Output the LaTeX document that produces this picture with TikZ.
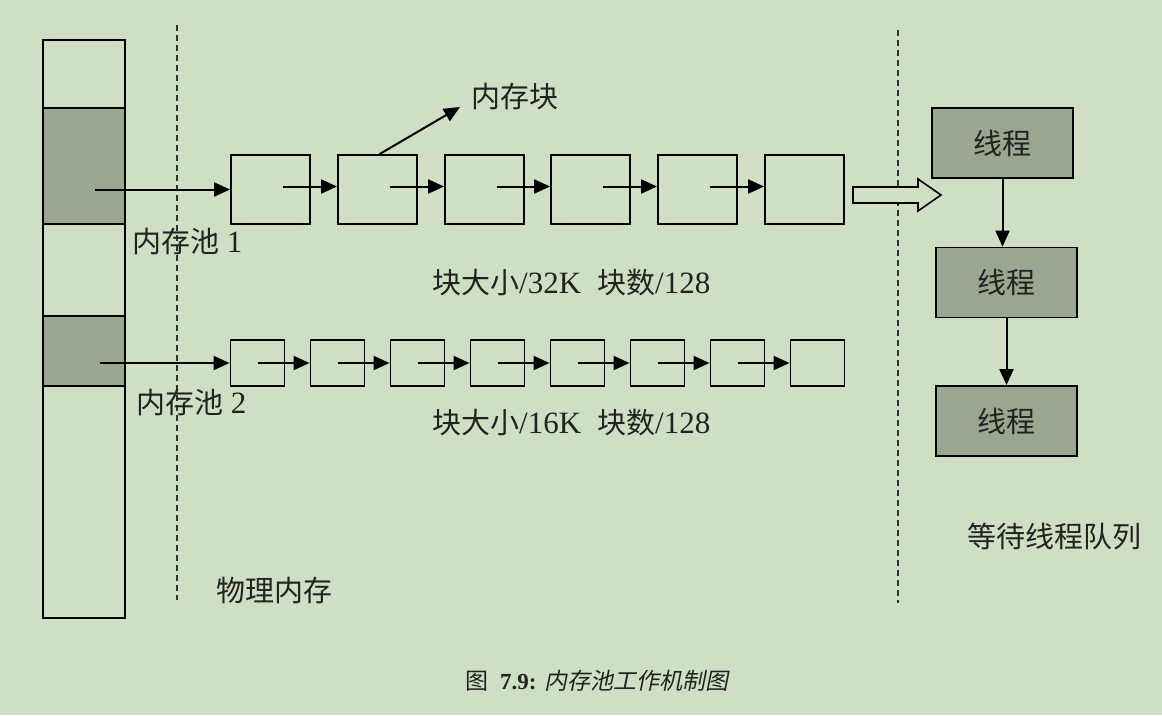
\documentclass[tikz,border=0pt]{standalone}
\usepackage{fontspec}
\setmainfont{Liberation Serif}
\newfontfamily\cjk{Noto Sans CJK SC}
\newfontfamily\cjkit[FakeSlant=0.2]{Noto Sans CJK SC}
\usetikzlibrary{arrows.meta}
\definecolor{bgc}{HTML}{CFDFC3}
\definecolor{grayc}{HTML}{9AA690}
\definecolor{txt}{HTML}{222222}
\tikzset{
  blk/.style={draw, line width=1.8pt, minimum width=79pt, minimum height=69pt, inner sep=0pt},
  sblk/.style={draw, line width=1.8pt, minimum width=54pt, minimum height=46pt, inner sep=0pt},
  thr/.style={draw, line width=1.8pt, fill=grayc, minimum width=141pt, minimum height=70pt, inner sep=0pt, font=\cjk\fontsize{29}{32}\selectfont, text=txt},
  lnk/.style={line width=2pt, -{Triangle[length=16pt,width=14pt]}},
  lbl/.style={anchor=west, inner sep=0pt, text=txt, font=\fontsize{31}{34}\selectfont},
  sep/.style={line width=1.6pt, dash pattern=on 6pt off 4pt, draw=black!80}
}
\newcommand{\cj}[1]{{\cjk\fontsize{29}{32}\selectfont #1}}
\begin{document}
\begin{tikzpicture}[x=1pt,y=-1pt]
\fill[bgc] (0,0) rectangle (1162,715);
\useasboundingbox (0,0) rectangle (1162,715);
% memory column
\node[draw, line width=1.8pt, minimum width=82pt, minimum height=578pt, inner sep=0pt] (col) at (84,329) {};
\node[draw, line width=1.8pt, fill=grayc, minimum width=82pt, minimum height=116pt, inner sep=0pt] (g1) at (84,166) {};
\node[draw, line width=1.8pt, fill=grayc, minimum width=82pt, minimum height=70pt, inner sep=0pt] (g2) at (84,351) {};
% separators
\draw[sep] (177,25) -- (177,600);
\draw[sep] (898,30) -- (898,603);
% row 1
\foreach \i/\x in {1/231,2/338,3/445,4/551,5/658,6/765}{
  \node[blk] (a\i) at (\x+39.5,189.5) {};
}
\foreach \i/\j in {1/2,2/3,3/4,4/5,5/6}{
  \draw[lnk] ([xshift=12pt,yshift=3pt]a\i.center) -- ([yshift=3pt]a\j.west);
}
\coordinate (s1) at (95,189.5);
\draw[lnk] (s1) -- (a1.west);
% row 2
\foreach \i/\x in {1/231,2/311,3/391,4/471,5/551,6/631,7/711,8/791}{
  \node[sblk] (b\i) at (\x+26.5,363) {};
}
\foreach \i/\j in {1/2,2/3,3/4,4/5,5/6,6/7,7/8}{
  \draw[lnk] (b\i.center) -- (b\j.west);
}
\coordinate (s2) at (100,363);
\draw[lnk] (s2) -- (b1.west);
% memory block label
\node[lbl] (mk) at (471,97) {\cj{内存块}};
\coordinate (mkt) at (460,107);
\draw[lnk] ([xshift=2pt]a2.north) -- (mkt);
% labels
\node[lbl] (p1) at (132,242) {\cj{内存池} 1};
\node[lbl] (p2) at (136,403) {\cj{内存池} 2};
\node[lbl] (r1) at (432,283) {\cj{块大小}/32K\hspace{16pt}\cj{块数}/128};
\node[lbl] (r2) at (432,423) {\cj{块大小}/16K\hspace{16pt}\cj{块数}/128};
\node[lbl] (phys) at (216,591) {\cj{物理内存}};
\node[lbl] (wq) at (967,536) {\cj{等待线程队列}};
% hollow arrow
\draw[line width=1.6pt, fill=bgc] (853,187) -- (918,187) -- (918,179) -- (941,195) -- (918,211) -- (918,203) -- (853,203) -- cycle;
% threads
\node[thr] (t1) at (1002.5,143) {线程};
\node[thr] (t2) at (1006.5,282.5) {线程};
\node[thr] (t3) at (1006.5,421) {线程};
\draw[lnk] (t1.south) -- (t1.south |- t2.north);
\draw[lnk] (t2.south) -- (t2.south |- t3.north);
% caption
\node[inner sep=0pt, text=txt, font=\fontsize{23}{26}\selectfont] (cap) at (597,681) {{\cjk 图}\ \ \textbf{7.9:} {\cjkit 内存池工作机制图}};
\end{tikzpicture}
\end{document}
